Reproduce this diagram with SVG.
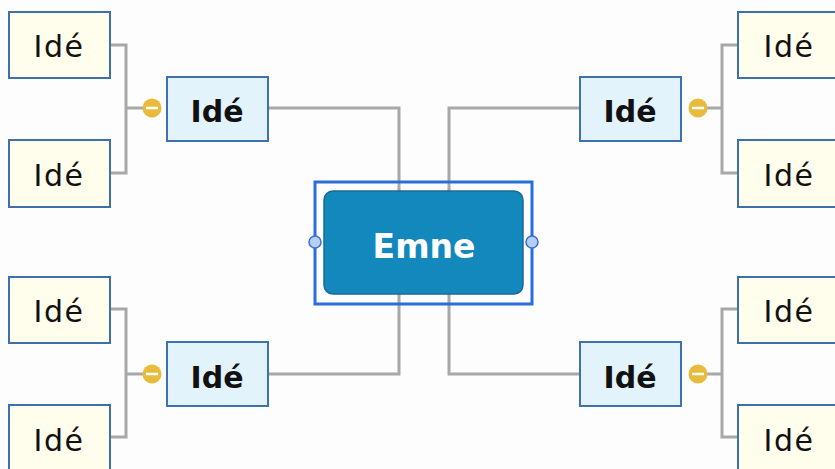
<svg xmlns="http://www.w3.org/2000/svg" width="835" height="469" viewBox="0 0 835 469">
<style>
.leaf rect{fill:#fffdeb;stroke:#3f70aa;stroke-width:2}
.leaf text{font-family:"DejaVu Sans",sans-serif;font-size:30px;fill:#111;text-anchor:middle;letter-spacing:1.5px}
.main rect{fill:#e3f3fc;stroke:#3f72ad;stroke-width:2}
.main text{font-family:"DejaVu Sans",sans-serif;font-size:30px;font-weight:bold;fill:#111;text-anchor:middle}
.conn path{fill:none;stroke:#a8a8a8;stroke-width:3}
.col circle{fill:#e8bb3c}
.col line{stroke:#fff;stroke-width:2.5}
</style>
<rect width="835" height="469" fill="#fdfdfd"/>
<g id="connectors" class="conn">
<path d="M268 108H399V191"/>
<path d="M268 374H399V294"/>
<path d="M580 108H449V191"/>
<path d="M580 374H449V294"/>
<path d="M110 45H126V173H110M126 108H143"/>
<path d="M110 309H126V437H110M126 374H143"/>
<path d="M738 45H722V173H738M722 108H707"/>
<path d="M738 309H722V437H738M722 374H707"/>
</g>
<g id="collapse" class="col">
<circle cx="152" cy="108" r="9.5"/><line x1="146" y1="108" x2="158" y2="108"/>
<circle cx="152" cy="374" r="9.5"/><line x1="146" y1="374" x2="158" y2="374"/>
<circle cx="698" cy="108" r="9.5"/><line x1="692" y1="108" x2="704" y2="108"/>
<circle cx="698" cy="374" r="9.5"/><line x1="692" y1="374" x2="704" y2="374"/>
</g>
<g id="center">
<rect x="315" y="182" width="217" height="122" fill="none" stroke="#2a6ddb" stroke-width="3"/>
<rect x="324" y="191" width="199" height="103" rx="9" fill="#1388bd" stroke="#1c6a94" stroke-width="1.5"/>
<text x="424" y="258" font-family="DejaVu Sans, sans-serif" font-size="33" font-weight="bold" fill="#fff" text-anchor="middle">Emne</text>
<circle cx="315" cy="242" r="6" fill="#b4cff2" stroke="#3a6fd8" stroke-width="1.5"/>
<circle cx="532" cy="242" r="6" fill="#b4cff2" stroke="#3a6fd8" stroke-width="1.5"/>
</g>
<g id="main-tl" class="main"><rect x="167" y="77" width="101" height="64"/><text x="217" y="122">Idé</text></g>
<g id="main-bl" class="main"><rect x="167" y="342" width="101" height="64"/><text x="217" y="388">Idé</text></g>
<g id="main-tr" class="main"><rect x="580" y="77" width="101" height="64"/><text x="630" y="122">Idé</text></g>
<g id="main-br" class="main"><rect x="580" y="342" width="101" height="64"/><text x="630" y="388">Idé</text></g>
<g id="leaf-l1" class="leaf"><rect x="9" y="12" width="101" height="66"/><text x="59" y="57">Idé</text></g>
<g id="leaf-l2" class="leaf"><rect x="9" y="140" width="101" height="67"/><text x="59" y="186">Idé</text></g>
<g id="leaf-l3" class="leaf"><rect x="9" y="277" width="101" height="66"/><text x="59" y="322">Idé</text></g>
<g id="leaf-l4" class="leaf"><rect x="9" y="405" width="101" height="67"/><text x="59" y="451">Idé</text></g>
<g id="leaf-r1" class="leaf"><rect x="738" y="12" width="101" height="66"/><text x="789" y="57">Idé</text></g>
<g id="leaf-r2" class="leaf"><rect x="738" y="140" width="101" height="67"/><text x="789" y="186">Idé</text></g>
<g id="leaf-r3" class="leaf"><rect x="738" y="277" width="101" height="66"/><text x="789" y="322">Idé</text></g>
<g id="leaf-r4" class="leaf"><rect x="738" y="405" width="101" height="67"/><text x="789" y="451">Idé</text></g>
</svg>
